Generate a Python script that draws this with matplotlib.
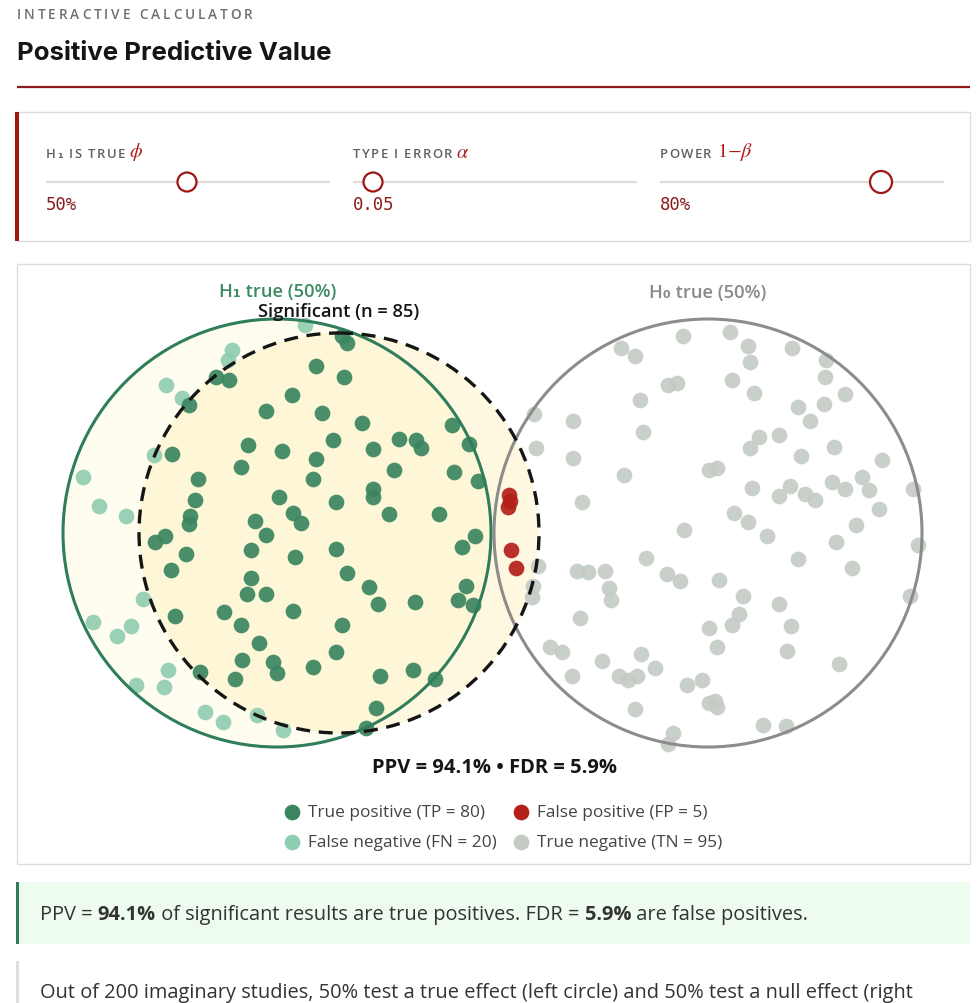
import matplotlib
matplotlib.use('Agg')
import matplotlib.pyplot as plt
from matplotlib.patches import Circle, Rectangle

# ---- data (pixel coordinates of the dots) ----
tp_x = [216, 229, 189, 292, 266, 248, 282, 172, 241, 198, 195, 279, 190, 189, 255, 293,
        301, 347, 342, 316, 344, 322, 362, 452, 333, 399, 416, 421, 469, 373, 316, 394,
        454, 313, 478, 373, 373, 336, 389, 439, 266, 165, 155, 186, 251, 336, 295, 171,
        347, 251, 247, 266, 175, 224, 293, 475, 462, 369, 466, 378, 415, 458, 473, 342,
        241, 259, 242, 273, 277, 200, 235, 336, 313, 380, 413, 435, 376, 366]
tp_y = [378, 381, 406, 396, 412, 446, 452, 455, 468, 480, 501, 498, 517, 525, 522, 514,
        524, 344, 337, 367, 378, 414, 424, 426, 441, 440, 441, 449, 445, 450, 460, 471,
        473, 480, 482, 490, 498, 503, 515, 515, 536, 537, 543, 555, 551, 550, 558, 571,
        574, 579, 595, 595, 617, 613, 612, 537, 548, 588, 587, 605, 603, 601, 606, 626,
        626, 644, 661, 663, 674, 673, 680, 653, 668, 677, 671, 680, 709, 729]

fn_x = [305, 232, 228, 166, 182, 154, 83, 99, 126, 143, 93, 131, 117, 168, 136, 164,
        205, 223, 257, 283]
fn_y = [326, 351, 361, 386, 399, 456, 478, 507, 517, 600, 623, 627, 637, 671, 686, 688,
        713, 723, 716, 731]

fp_x = [509, 510, 508, 511, 516]
fp_y = [496, 502, 508, 551, 569]

tn_x = [683, 730, 621, 635, 748, 750, 792, 826, 825, 668, 677, 732, 754, 845, 640, 798,
        824, 810, 534, 573, 643, 759, 750, 779, 834, 801, 536, 573, 882, 624, 709, 717,
        752, 790, 779, 805, 815, 832, 845, 862, 869, 913, 879, 582, 734, 748, 684, 767,
        856, 836, 918, 646, 798, 852, 538, 577, 588, 605, 609, 611, 667, 680, 719, 743,
        779, 533, 532, 910, 580, 739, 732, 709, 791, 717, 787, 550, 562, 641, 602, 655,
        839, 572, 619, 628, 637, 687, 702, 709, 717, 715, 635, 763, 786, 673, 668]
tn_y = [337, 333, 349, 357, 347, 363, 349, 361, 378, 386, 384, 381, 394, 395, 401, 408,
        405, 422, 415, 422, 433, 438, 449, 436, 448, 457, 449, 459, 461, 476, 471, 469,
        489, 487, 497, 495, 501, 483, 490, 478, 491, 490, 510, 503, 514, 523, 531, 537,
        526, 543, 546, 559, 560, 569, 567, 572, 573, 572, 589, 601, 575, 582, 581, 597,
        605, 587, 598, 597, 619, 615, 626, 629, 627, 648, 652, 648, 653, 655, 662, 669,
        665, 677, 677, 681, 677, 686, 681, 704, 708, 702, 710, 726, 727, 734, 745]

counts = {'TP': 80, 'FP': 5, 'FN': 20, 'TN': 95}
phi, alpha, power = 50, 0.05, 80
ppv, fdr = 94.1, 5.9

# ---- colours ----
TP_C = '#3a8560'
FN_C = '#8fcdb0'
FP_C = '#b3201a'
TN_C = '#c3cbc3'
GREEN_LINE = '#2f7d5a'
GRAY_LINE = '#8c8c8c'
SANS = ['Open Sans', 'DejaVu Sans']

W, H = 980, 1004
fig = plt.figure(figsize=(W / 100, H / 100), dpi=100)
ax = fig.add_axes([0, 0, 1, 1])
ax.set_xlim(0, W)
ax.set_ylim(H, 0)
ax.axis('off')
renderer = fig.canvas.get_renderer()


def width_of(s, **kw):
    # advance width in px, spaces included
    t1 = ax.text(0, 0, '|' + s + '|', **kw)
    t2 = ax.text(0, 0, '||', **kw)
    w = t1.get_window_extent(renderer).width - t2.get_window_extent(renderer).width
    t1.remove()
    t2.remove()
    return w


def spaced(x, y, s, gap, **kw):
    for ch in s:
        if ch != ' ':
            ax.text(x, y, ch, ha='left', va='center', **kw)
        x += width_of(ch, **kw) + gap
    return x


def runs(x, y, parts, **kw):
    for s, wt in parts:
        ax.text(x, y, s, ha='left', va='center', fontweight=wt, **kw)
        x += width_of(s, fontweight=wt, **kw)


# ---- header ----
spaced(17, 15, 'INTERACTIVE CALCULATOR', 2.9, fontsize=9.8, color='#6f6f6f',
       family=SANS, fontweight='semibold')
ax.text(17, 53, 'Positive Predictive Value', ha='left', va='center', fontsize=18.6,
        fontweight='bold', family=['Inter', 'DejaVu Sans'], color='#151515')
ax.plot([17, 970], [88, 88], color='#8b1a1a', lw=1.6, solid_capstyle='butt')

# ---- control panel ----
ax.add_patch(Rectangle((17, 113), 953, 129, fc='white', ec='#dddddd', lw=1))
ax.add_patch(Rectangle((15, 113), 4, 129, fc='#a31515', ec='none'))
lab_kw = dict(fontsize=9.4, color='#606060', family=SANS, fontweight='semibold')
sym_kw = dict(fontsize=14.5, color='#b01c1c', ha='left', va='center', math_fontfamily='stix')
xe = spaced(46, 154, 'H\u2081 IS TRUE', 1.4, **lab_kw)
ax.text(xe + 3, 152, r'$\phi$', **sym_kw)
xe = spaced(353, 154, 'TYPE I ERROR', 1.4, **lab_kw)
ax.text(xe + 3, 152, r'$\alpha$', **sym_kw)
xe = spaced(660, 154, 'POWER', 1.4, **lab_kw)
ax.text(xe + 4, 152, r'$\mathit{1}{-}\beta$', **sym_kw)

tracks = [(46, 330), (353, 637), (660, 944)]
knob_x = [187, 373, 881]
knob_r = [9.5, 9.5, 11]
values = [f'{phi}%', f'{alpha:.2f}', f'{power}%']
for (x0, x1), kx, kr, v in zip(tracks, knob_x, knob_r, values):
    ax.plot([x0, x1], [183, 183], color='#dcdcdc', lw=1.6, solid_capstyle='butt')
    ax.add_patch(Circle((kx, 183), kr, fc='white', ec='#a01515', lw=1.6, zorder=4))
    ax.text(x0, 205, v, ha='left', va='center', fontsize=12.4, color='#8b1a1a',
            family=['DejaVu Sans Mono'])

# ---- chart panel ----
ax.add_patch(Rectangle((17, 265), 953, 600, fc='white', ec='#dddddd', lw=1))
h1_c, h0_c, sig_c = (277, 534), (708, 534), (339, 534)
ax.add_patch(Circle(h1_c, 214, fc='#fffdef', ec='none', zorder=1))
ax.add_patch(Circle(sig_c, 200, fc='#fdefb0', alpha=0.38, ec='none', zorder=1.5))

dot_s = 128
ax.scatter(fn_x, fn_y, s=dot_s, c=FN_C, alpha=0.9, linewidths=0, zorder=3)
ax.scatter(tp_x, tp_y, s=dot_s, c=TP_C, alpha=0.92, linewidths=0, zorder=3)
ax.scatter(tn_x, tn_y, s=dot_s, c=TN_C, alpha=0.9, linewidths=0, zorder=3)
ax.scatter(fp_x, fp_y, s=dot_s, c=FP_C, alpha=0.92, linewidths=0, zorder=3)

ax.add_patch(Circle(h1_c, 214, fc='none', ec=GREEN_LINE, lw=2.2, zorder=5))
ax.add_patch(Circle(h0_c, 214, fc='none', ec=GRAY_LINE, lw=2.2, zorder=5))
ax.add_patch(Circle(sig_c, 200, fc='none', ec='#151515', lw=2.4, ls=(0, (4.2, 2.6)), zorder=6))

ax.text(278, 292, f'H\u2081 true ({phi}%)', ha='center', va='center', fontsize=13.2,
        fontweight='semibold', color='#3f8a64', family=SANS)
ax.text(708, 293, f'H\u2080 true ({100 - phi}%)', ha='center', va='center', fontsize=13.2,
        fontweight='semibold', color='#8a8a8a', family=SANS)
ax.text(339, 312, f"Significant (n = {counts['TP'] + counts['FP']})", ha='center',
        va='center', fontsize=13.2, fontweight='semibold', color='#151515', family=SANS, zorder=7)
ax.text(494, 768, f'PPV = {ppv}% \u2022 FDR = {fdr}%', ha='center', va='center',
        fontsize=14.5, fontweight='bold', color='#151515', family=SANS)

leg = [(292, 813, TP_C, f"True positive (TP = {counts['TP']})"),
       (521, 813, FP_C, f"False positive (FP = {counts['FP']})"),
       (292, 843, FN_C, f"False negative (FN = {counts['FN']})"),
       (521, 843, TN_C, f"True negative (TN = {counts['TN']})")]
for lx, ly, lc, lt in leg:
    ax.scatter([lx], [ly], s=dot_s, c=lc, linewidths=0, zorder=3)
    ax.text(lx + 16, ly, lt, ha='left', va='center', fontsize=12.4, color='#444444', family=SANS)

# ---- info boxes ----
ax.add_patch(Rectangle((17, 883), 953, 62, fc='#eefcef', ec='none'))
ax.add_patch(Rectangle((16, 883), 3, 62, fc=GREEN_LINE, ec='none'))
runs(40, 915, [('PPV = ', 'normal'), (f'{ppv}%', 'bold'),
               (' of significant results are true positives. FDR = ', 'normal'),
               (f'{fdr}%', 'bold'), (' are false positives.', 'normal')],
     fontsize=14.4, color='#333333', family=SANS)

ax.add_patch(Rectangle((16, 962), 3, 60, fc='#dddddd', ec='none'))
ax.text(40, 993, 'Out of 200 imaginary studies, 50% test a true effect (left circle) and '
        '50% test a null effect (right', ha='left', va='center', fontsize=14.4,
        color='#333333', family=SANS)

fig.savefig('out.png', dpi=100)
